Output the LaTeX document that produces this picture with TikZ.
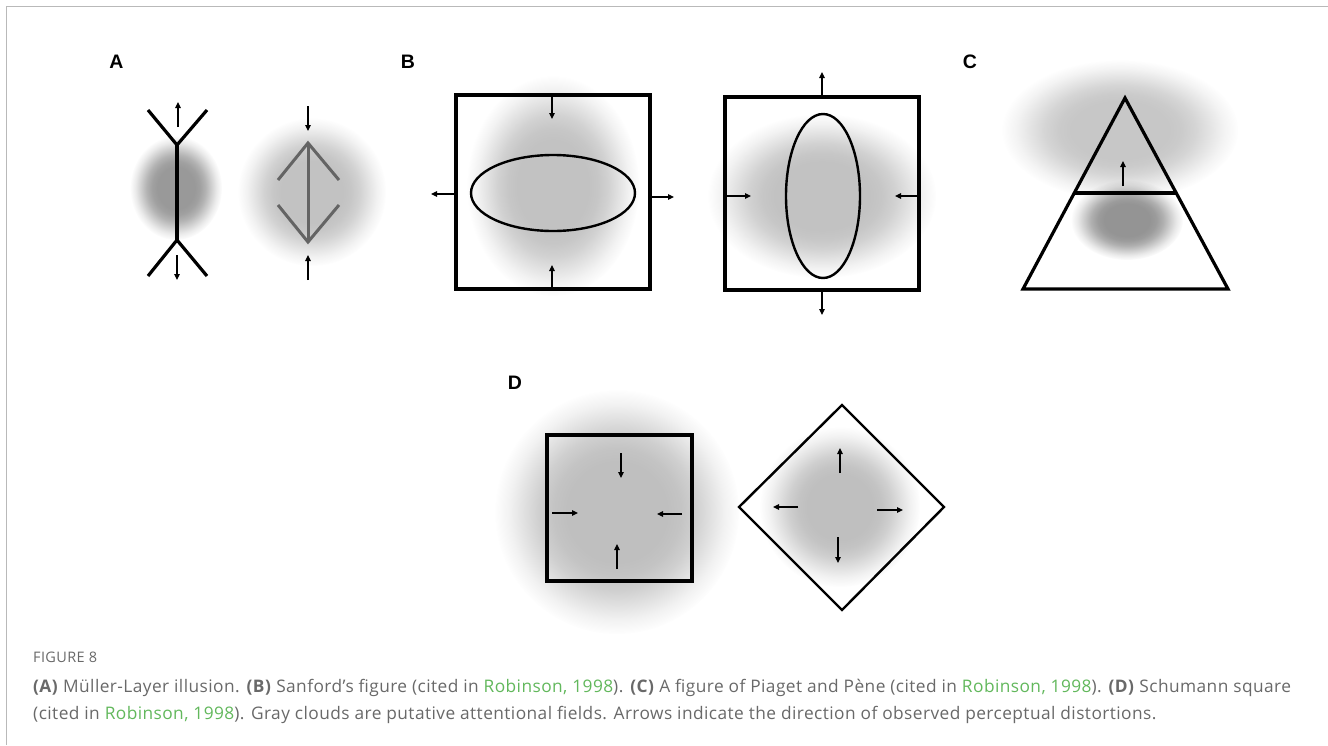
\documentclass[tikz,border=0pt]{standalone}
\usepackage{fontspec}
\setmainfont{Open Sans}
\newfontfamily\capfont[LetterSpace=2.5]{Open Sans}
\newfontfamily\labelfont{Liberation Sans}
\usetikzlibrary{arrows.meta,fadings}

% soft cloud: broad opaque plateau, smooth fall-off to transparent at the rim
\pgfdeclareradialshading{cloudmask}{\pgfpoint{0bp}{0bp}}{%
  color(0bp)=(white); color(10bp)=(white); color(13bp)=(white!92!black);
  color(16bp)=(white!74!black); color(19bp)=(white!47!black);
  color(22bp)=(white!20!black); color(25bp)=(black); color(50bp)=(black)}
\pgfdeclarefading{cloudfade}{\pgfuseshading{cloudmask}}

\definecolor{linkgreen}{RGB}{98,184,92}
\definecolor{captiongray}{RGB}{105,105,105}
\definecolor{framegray}{RGB}{185,185,185}
\definecolor{figgray}{RGB}{100,100,100}

\newcommand\softcloud[4]{%
  \fill[fill=#4, path fading=cloudfade] (#1) ellipse ({#2} and {#3});}

\begin{document}
\begin{tikzpicture}[x=1pt,y=-1pt,
  heavy/.style={line width=3.2pt},
  ring/.style={line width=2.4pt},
  greyline/.style={line width=3pt, draw=figgray},
  arr/.style={line width=1.2pt, -{Triangle[length=6pt,width=5.5pt]}},
  panel/.style={font=\labelfont\bfseries\fontsize{19.5}{22}\selectfont, inner sep=0pt},
  captext/.style={font=\capfont\fontsize{17.3}{20}\selectfont, text=captiongray, anchor=base west, inner sep=0pt},
]
\useasboundingbox (0,0) rectangle (1328,745);
\fill[white] (0,0) rectangle (1328,745);

% outer frame (top and left rules)
\draw[framegray, line width=1.3pt] (6.5,745) -- (6.5,6.5) -- (1328,6.5);

% ---------- attentional clouds ----------
\softcloud{176,188}{46}{52}{black!40}
\softcloud{312,192}{74}{74}{black!24}
\softcloud{553,186}{86}{110}{black!24}
\softcloud{822,196}{114}{82}{black!24}
\softcloud{1120,130}{118}{70}{black!22}
\softcloud{1127,220}{56}{40}{black!42}
\softcloud{617,512}{122}{122}{black!25}
\softcloud{840,507}{80}{80}{black!25}

% ---------- panel labels ----------
\node[panel] (lA) at (116.5,62) {A};
\node[panel] (lB) at (408,62) {B};
\node[panel] (lC) at (970,62) {C};
\node[panel] (lD) at (515,383) {D};

% ---------- A: Mueller-Lyer figures ----------
\draw[heavy] (148,110) -- (177,145) -- (207,110);
\draw[heavy] (177,145) -- (177,240);
\draw[heavy] (148,276) -- (177,240) -- (207,276);
\draw[arr] (178,127) -- (178,102);
\draw[arr] (177,255) -- (177,280);

\draw[greyline] (278,180) -- (308,143) -- (339,180);
\draw[greyline] (308,143) -- (308,242);
\draw[greyline] (278,205) -- (308,242) -- (339,205);
\draw[arr] (308,106) -- (308,131);
\draw[arr] (308,280) -- (308,255);

% ---------- B: Sanford's figure ----------
\draw[heavy] (456,95) rectangle (650,289);
\draw[ring] (553,193) ellipse (82 and 38);
\draw[arr] (552,95) -- (552,119);
\draw[arr] (552,289) -- (552,265);
\draw[arr] (456,194) -- (431,194);
\draw[arr] (650,197) -- (674,197);

\draw[heavy] (725,97) rectangle (919,290);
\draw[ring] (823,196) ellipse (37 and 82);
\draw[arr] (822,97) -- (822,72);
\draw[arr] (822,290) -- (822,315);
\draw[arr] (725,196) -- (751,196);
\draw[arr] (919,196) -- (895,196);

% ---------- C: Piaget and Pene ----------
\draw[heavy] (1125,98) -- (1228,289) -- (1023,289) -- cycle;
\draw[heavy] (1074.3,193) -- (1176.2,193);
\draw[arr] (1123,186) -- (1123,161);

% ---------- D: Schumann square ----------
\draw[heavy] (547,435) rectangle (692,581);
\draw[arr] (621,453) -- (621,478);
\draw[arr] (617,569) -- (617,544);
\draw[arr] (552,513) -- (578,513);
\draw[arr] (682,514) -- (657,514);

\draw[ring] (842,405) -- (944,507) -- (842,610) -- (739,507) -- cycle;
\draw[arr] (840,473) -- (840,448);
\draw[arr] (838,537) -- (838,563);
\draw[arr] (798,507) -- (773,507);
\draw[arr] (877,510) -- (903,510);

% ---------- caption ----------
\node[captext, font=\capfont\fontsize{14.5}{16}\selectfont] (fignum) at (33,662) {FIGURE 8};
\node[captext] (capA) at (33,692) {\textbf{(A)} Müller-Layer illusion. \textbf{(B)} Sanford’s figure (cited in \textcolor{linkgreen}{Robinson, 1998}). \textbf{(C)} A figure of Piaget and Pène (cited in \textcolor{linkgreen}{Robinson, 1998}). \textbf{(D)} Schumann square};
\node[captext] (capB) at (33,719) {(cited in \textcolor{linkgreen}{Robinson, 1998}). Gray clouds are putative attentional fields. Arrows indicate the direction of observed perceptual distortions.};
\end{tikzpicture}
\end{document}
